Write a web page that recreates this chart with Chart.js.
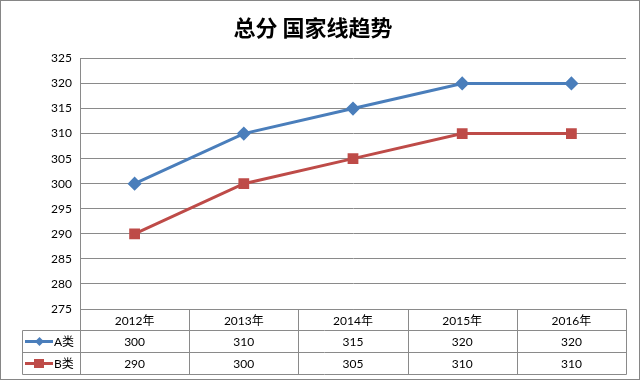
<!DOCTYPE html>
<html>
<head>
<meta charset="utf-8">
<script src="https://cdn.jsdelivr.net/npm/chart.js@4/dist/chart.umd.min.js"></script>
<style>
html,body{margin:0;padding:0;background:#fff;}
#wrap{width:641px;height:381px;position:relative;}
</style>
</head>
<body>
<div id="wrap"><canvas id="c" width="641" height="381"></canvas></div>
<script>
const titleText = '总分 国家线趋势';
const categories = ['2012年', '2013年', '2014年', '2015年', '2016年'];
const seriesNames = ['A类', 'B类'];
const seriesA = [300, 310, 315, 320, 320];
const seriesB = [290, 300, 305, 310, 310];
const yMin = 275, yMax = 325, yStep = 5;

const blue = '#4A7EBB';
const red = '#BE4B48';
const gridColor = '#8a8a8a';
const txtFont = '12px Lato, "Noto Sans CJK SC", sans-serif';

const tablePlugin = {
  id: 'dataTable',
  afterDraw(chart) {
    const ctx = chart.ctx;
    const xs = chart.scales.x;
    const area = chart.chartArea;
    const n = categories.length;
    const half = (xs.getPixelForValue(1) - xs.getPixelForValue(0)) / 2;
    const left = Math.round(xs.getPixelForValue(0) - half) + 0.5;
    const right = Math.round(xs.getPixelForValue(n - 1) + half) + 0.5;
    const top = Math.round(area.bottom) + 0.5;
    const rowH = [21, 22, 22];
    const y1 = top + rowH[0], y2 = y1 + rowH[1], y3 = y2 + rowH[2];
    const legLeft = 22.5;
    ctx.save();
    ctx.strokeStyle = gridColor;
    ctx.lineWidth = 1;
    ctx.beginPath();
    ctx.moveTo(left, top); ctx.lineTo(right, top);
    ctx.moveTo(legLeft, y1); ctx.lineTo(right, y1);
    ctx.moveTo(legLeft, y2); ctx.lineTo(right, y2);
    ctx.moveTo(legLeft, y3); ctx.lineTo(right, y3);
    ctx.moveTo(legLeft, y1); ctx.lineTo(legLeft, y3);
    for (let i = 0; i <= n; i++) {
      const x = Math.round(xs.getPixelForValue(i) - half) + 0.5;
      ctx.moveTo(x, top); ctx.lineTo(x, y3);
    }
    ctx.stroke();

    ctx.fillStyle = '#000';
    ctx.font = txtFont;
    ctx.textAlign = 'center';
    ctx.textBaseline = 'middle';
    const rowsData = [seriesA, seriesB];
    for (let i = 0; i < n; i++) {
      const cx = xs.getPixelForValue(i);
      ctx.fillText(categories[i], cx, (top + y1) / 2 + 1);
      ctx.fillText(String(rowsData[0][i]), cx, (y1 + y2) / 2 + 1);
      ctx.fillText(String(rowsData[1][i]), cx, (y2 + y3) / 2 + 1);
    }
    const keys = [{c: blue, shape: 'diamond', y: (y1 + y2) / 2}, {c: red, shape: 'square', y: (y2 + y3) / 2}];
    keys.forEach((k, idx) => {
      ctx.strokeStyle = k.c;
      ctx.fillStyle = k.c;
      ctx.lineWidth = 3;
      ctx.beginPath();
      ctx.moveTo(25, k.y); ctx.lineTo(53, k.y);
      ctx.stroke();
      ctx.beginPath();
      if (k.shape === 'diamond') {
        ctx.moveTo(39.5, k.y - 4.5); ctx.lineTo(44, k.y); ctx.lineTo(39.5, k.y + 4.5); ctx.lineTo(35, k.y);
        ctx.closePath(); ctx.fill();
      } else {
        ctx.fillRect(34, k.y - 4.5, 10, 9);
      }
      ctx.fillStyle = '#000';
      ctx.font = txtFont;
      ctx.textAlign = 'left';
      ctx.fillText(seriesNames[idx], 54, k.y + 1);
    });
    ctx.strokeStyle = '#868686';
    ctx.lineWidth = 1;
    ctx.strokeRect(0.5, 0.5, 639, 379);
    ctx.restore();
  }
};

new Chart(document.getElementById('c'), {
  type: 'line',
  data: {
    labels: categories,
    datasets: [
      {label: seriesNames[0], data: seriesA, borderColor: blue, backgroundColor: blue,
       borderWidth: 3, pointStyle: 'rectRot', pointRadius: 5, pointHoverRadius: 5, tension: 0},
      {label: seriesNames[1], data: seriesB, borderColor: red, backgroundColor: red,
       borderWidth: 3, pointStyle: 'rect', pointRadius: 5.5, pointHoverRadius: 5.5, tension: 0}
    ]
  },
  options: {
    responsive: false,
    animation: false,
    devicePixelRatio: 1,
    layout: {padding: {left: 0, right: 15, top: 0, bottom: 72}},
    plugins: {
      legend: {display: false},
      tooltip: {enabled: false},
      title: {
        display: true, text: titleText, color: '#000',
        font: {family: '"Noto Sans CJK SC", sans-serif', size: 22, weight: 'bold'},
        padding: {top: 14, bottom: 18}
      }
    },
    scales: {
      x: {
        display: false,
        offset: true
      },
      y: {
        min: yMin, max: yMax,
        ticks: {stepSize: yStep, color: '#000', font: {family: 'Lato, sans-serif', size: 12}, padding: 8},
        grid: {color: gridColor, drawTicks: false},
        border: {color: gridColor},
        afterFit(s) { s.width = 80; }
      }
    }
  },
  plugins: [tablePlugin]
});
</script>
</body>
</html>
